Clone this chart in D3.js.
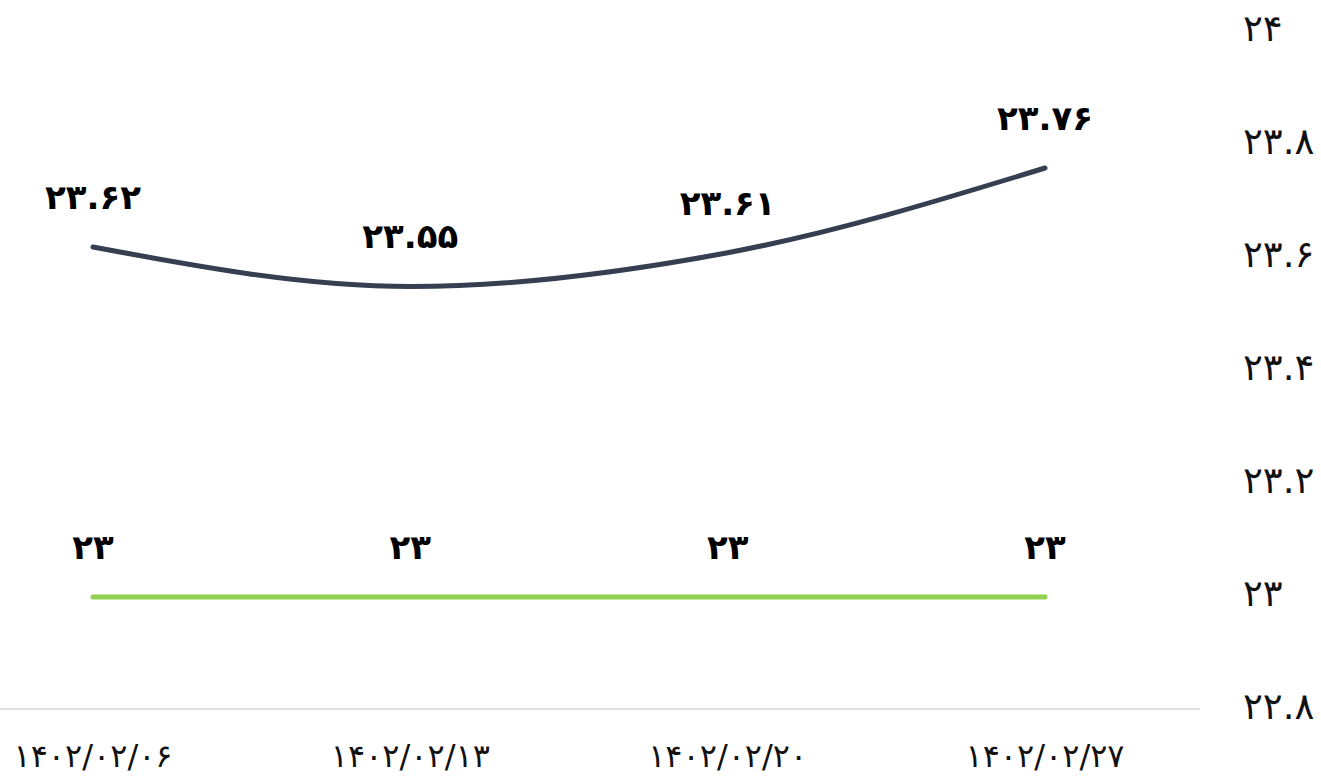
<!DOCTYPE html>
<html>
<head>
<meta charset="utf-8">
<script src="https://cdn.jsdelivr.net/npm/d3@7"></script>
<style>
  body { margin: 0; background: #fff; }
  text { font-family: "DejaVu Sans", sans-serif; }
</style>
</head>
<body>
<svg id="vis"></svg>
<script>
const width = 1321;
const height = 778;

// data
const dates = ["۱۴۰۲/۰۲/۰۶", "۱۴۰۲/۰۲/۱۳", "۱۴۰۲/۰۲/۲۰", "۱۴۰۲/۰۲/۲۷"];
const priceValues = [23.62, 23.55, 23.61, 23.76];
const baseValues = [23, 23, 23, 23];
const yTicks = [22.8, 23, 23.2, 23.4, 23.6, 23.8, 24];

const toFa = s => String(s).replace(/[0-9]/g, d => "۰۱۲۳۴۵۶۷۸۹"[+d]);

const svg = d3.select("#vis")
  .attr("width", width)
  .attr("height", height);

const x = d3.scalePoint().domain(dates).range([93, 1045]);
const y = d3.scaleLinear().domain([22.8, 24]).range([710, 32.5]);

// bottom line
svg.append("line")
  .attr("x1", 0)
  .attr("x2", 1200)
  .attr("y1", y(22.8) - 1)
  .attr("y2", y(22.8) - 1)
  .style("stroke", "#e0e0e0")
  .style("stroke-width", 2);

// y axis labels on the right
svg.append("g")
  .selectAll("text")
  .data(yTicks)
  .enter()
  .append("text")
  .attr("x", 1243)
  .attr("y", d => y(d) - 4)
  .attr("dy", "0.35em")
  .style("font-size", "37px")
  .style("fill", "#111")
  .text(d => toFa(d));

// x labels
svg.append("g")
  .selectAll("text")
  .data(dates)
  .enter()
  .append("text")
  .attr("x", d => x(d))
  .attr("y", 756)
  .attr("dy", "0.35em")
  .attr("text-anchor", "middle")
  .style("font-size", "32px")
  .style("fill", "#111")
  .text(d => d);

const line = d3.line()
  .x((d, i) => x(dates[i]))
  .y(d => y(d))
  .curve(d3.curveMonotoneX);

const series = [
  { values: baseValues, color: "#92d050" },
  { values: priceValues, color: "#353f51" }
];

series.forEach(function(s) {
  svg.append("path")
    .datum(s.values)
    .attr("d", line)
    .style("fill", "none")
    .style("stroke", s.color)
    .style("stroke-width", 5)
    .style("stroke-linecap", "round");

  svg.append("g")
    .selectAll("text")
    .data(s.values)
    .enter()
    .append("text")
    .attr("x", (d, i) => x(dates[i]))
    .attr("y", d => y(d) - 50)
    .attr("dy", "0.35em")
    .attr("text-anchor", "middle")
    .style("font-size", "34px")
    .style("font-weight", "bold")
    .style("fill", "#000")
    .text(d => toFa(d));
});
</script>
</body>
</html>
